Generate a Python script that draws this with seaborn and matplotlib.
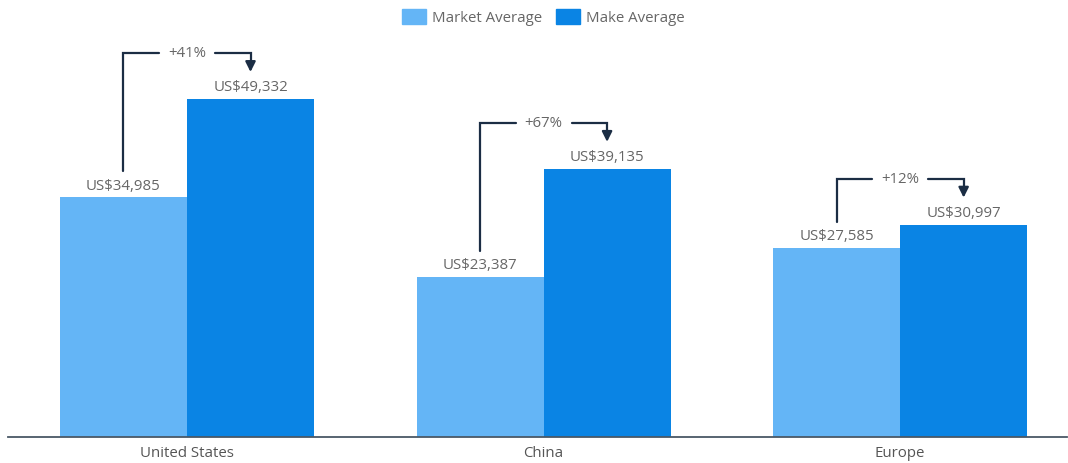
import matplotlib
matplotlib.use("Agg")
import matplotlib.pyplot as plt
import seaborn as sns
import pandas as pd

regions = ["United States", "China", "Europe"]
market_avg = [34985, 23387, 27585]
make_avg = [49332, 39135, 30997]
uplift = ["+41%", "+67%", "+12%"]
series_names = ["Market Average", "Make Average"]

LIGHT = "#64b5f6"
DARK = "#0a84e4"
TEXT = "#666666"
BRACKET = "#1b2d44"

sns.set_theme(style="white")
plt.rcParams["font.family"] = ["Open Sans", "DejaVu Sans"]

df = pd.DataFrame({
    "region": regions * 2,
    "series": [series_names[0]] * 3 + [series_names[1]] * 3,
    "price": market_avg + make_avg,
})

W, H, DPI = 1068, 464, 100
fig = plt.figure(figsize=(W / DPI, H / DPI), dpi=DPI)
ax_left, ax_right, ax_bottom = 8, 1067, 438
ax = fig.add_axes([ax_left / W, (H - ax_bottom) / H, (ax_right - ax_left) / W, ax_bottom / H])

bar_width = 0.7125
sns.barplot(data=df, x="region", y="price", hue="series", order=regions,
            hue_order=series_names, palette=[LIGHT, DARK], width=bar_width,
            gap=0, saturation=1, ax=ax, legend=False, errorbar=None,
            linewidth=0, edgecolor="none")

ymax = 63920
ax.set_ylim(0, ymax)
ax.set_xlim(-0.502, 2.468)
px = ymax / ax_bottom  # data units per pixel vertically
xpx = (2.468 + 0.502) / (ax_right - ax_left)  # data units per pixel horizontally

for s in ["top", "right", "left"]:
    ax.spines[s].set_visible(False)
ax.spines["bottom"].set_color("#4a5866")
ax.spines["bottom"].set_linewidth(1.3)
ax.set_yticks([])
ax.set_xlabel("")
ax.set_ylabel("")
ax.tick_params(axis="x", length=0, pad=6, labelsize=10.8, labelcolor="#555555")

half = bar_width / 4
for i, (m, k, pct) in enumerate(zip(market_avg, make_avg, uplift)):
    xl, xd = i - half, i + half
    ax.text(xl, m + 12 * px, f"US${m:,}", ha="center", va="center",
            fontsize=10.8, color=TEXT)
    ax.text(xd, k + 12 * px, f"US${k:,}", ha="center", va="center",
            fontsize=10.8, color=TEXT)

    top = k + 46 * px
    gap = 28 * xpx
    ax.plot([xl, xl, i - gap], [m + 26 * px, top, top], color=BRACKET,
            lw=1.6, solid_joinstyle="miter", clip_on=False)
    ax.plot([i + gap, xd, xd], [top, top, k + 36 * px], color=BRACKET,
            lw=1.6, solid_joinstyle="miter", clip_on=False)
    ax.annotate("", xy=(xd, k + 27 * px), xytext=(xd, k + 37 * px),
                arrowprops=dict(arrowstyle="-|>,head_length=0.5,head_width=0.25",
                                color=BRACKET, lw=1.6, shrinkA=0, shrinkB=0))
    ax.text(i, top, pct, ha="center", va="center", fontsize=10.8, color=TEXT)

handles = [plt.Rectangle((0, 0), 1, 1, color=c) for c in [LIGHT, DARK]]
fig.legend(handles, series_names, loc="center", bbox_to_anchor=(543 / W, 1 - 18 / H),
           ncol=2, frameon=False, fontsize=10.8, labelcolor=TEXT,
           handlelength=1.6, handleheight=1.15, handletextpad=0.4,
           columnspacing=0.9)

fig.savefig("out.png", dpi=DPI)
